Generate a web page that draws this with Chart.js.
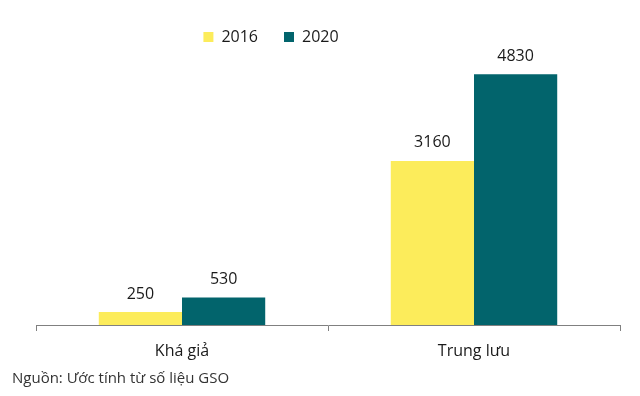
<!DOCTYPE html>
<html>
<head>
<meta charset="utf-8">
<script src="https://cdn.jsdelivr.net/npm/chart.js@4"></script>
<style>
    html, body { margin: 0; padding: 0; background: #ffffff; }
    #wrap { width: 640px; height: 396px; position: relative; }
</style>
</head>
<body>
<div id="wrap"><canvas id="incomeChart"></canvas></div>
<script>

const categories = ["Khá giả", "Trung lưu"];
const values2016 = [250, 3160];
const values2020 = [530, 4830];
const seriesNames = ["2016", "2020"];

const FONT = "'Open Sans', 'Noto Sans', sans-serif";

/*
 * Draw value labels above each bar
 */
const valueLabels = {
    id: "valueLabels",
    afterDatasetsDraw(chart) {
        const ctx = chart.ctx;
        ctx.save();
        ctx.font = "16px " + FONT;
        ctx.fillStyle = "#1a1a1a";
        ctx.textAlign = "center";
        ctx.textBaseline = "middle";
        chart.data.datasets.forEach((ds, i) => {
            chart.getDatasetMeta(i).data.forEach((bar, j) => {
                ctx.fillText(String(ds.data[j]), bar.x, bar.y - 18);
            });
        });
        ctx.restore();
    }
};

/*
 * Legend sits left of centre in the original
 */
const legendShift = {
    id: "legendShift",
    afterLayout(chart) {
        if (chart.legend) {
            chart.legend.left -= 45;
            chart.legend.right -= 45;
        }
    }
};

const ctx = document.getElementById("incomeChart");

new Chart(ctx, {

    type: "bar",

    data: {
        labels: categories,
        datasets: [
            {
                label: seriesNames[0],
                data: values2016,
                backgroundColor: "#fcec5b",
                borderWidth: 0
            },
            {
                label: seriesNames[1],
                data: values2020,
                backgroundColor: "#02646c",
                borderWidth: 0
            }
        ]
    },

    options: {

        responsive: true,
        maintainAspectRatio: false,
        animation: false,

        layout: {
            padding: { left: 12, right: 20, top: 3, bottom: 8 }
        },

        datasets: {
            bar: {
                barPercentage: 1,
                categoryPercentage: 0.57
            }
        },

        scales: {
            x: {
                grid: {
                    drawOnChartArea: false,
                    drawTicks: true,
                    tickLength: 6,
                    color: "#808080"
                },
                border: { display: true, color: "#808080" },
                ticks: {
                    color: "#1a1a1a",
                    font: { family: FONT, size: 16 },
                    padding: 11
                },
                afterFit(scale) {
                    scale.height = 36;
                }
            },
            y: {
                display: true,
                min: 0,
                max: 5200,
                ticks: { display: false },
                grid: { display: false },
                border: { display: false },
                afterFit(scale) {
                    scale.width = 24;
                }
            }
        },

        plugins: {
            legend: {
                position: "top",
                labels: {
                    boxWidth: 10,
                    boxHeight: 10,
                    padding: 26,
                    color: "#1a1a1a",
                    font: { family: FONT, size: 16 }
                }
            },
            title: {
                display: true,
                position: "bottom",
                align: "start",
                text: "Nguồn: Ước tính từ số liệu GSO",
                color: "#333333",
                font: { family: FONT, size: 15, weight: "normal" },
                padding: { top: 9, bottom: 0 }
            },
            tooltip: { enabled: false }
        }

    },

    plugins: [valueLabels, legendShift]

});

</script>
</body>
</html>
